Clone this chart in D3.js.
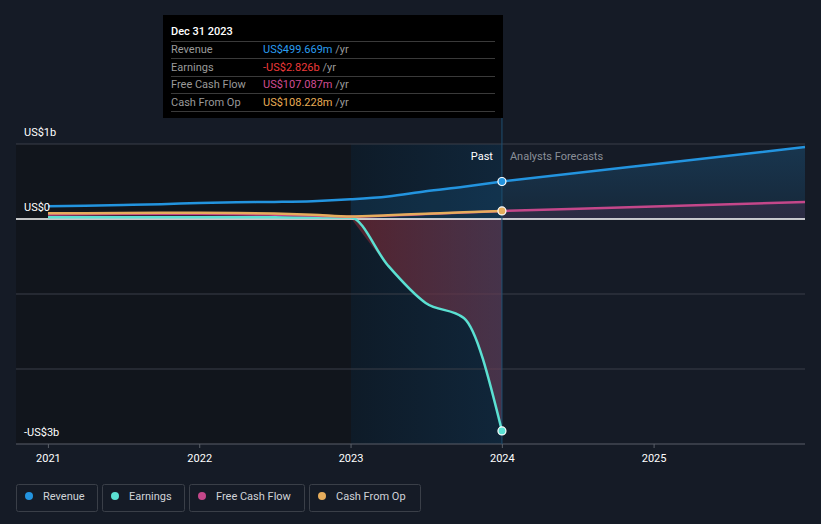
<!DOCTYPE html>
<html><head><meta charset="utf-8">
<script src="https://cdn.jsdelivr.net/npm/d3@7"></script>
<style>
body{margin:0;background:#151b26;}
svg text{font-family:Roboto,"Noto Sans",sans-serif;}
</style></head><body>
<svg id="c" width="821" height="524"></svg>
<script>
const pastDates = ["2020-12-31","2021-03-31","2021-06-30","2021-09-30","2021-12-31","2022-03-31","2022-06-30","2022-09-30","2022-12-31","2023-03-31","2023-06-30","2023-09-30","2023-12-31"];
const revenuePast = [0.17,0.178,0.188,0.198,0.212,0.222,0.228,0.238,0.262,0.30,0.37,0.43,0.4997];
const earningsPast = [0.025,0.025,0.025,0.024,0.024,0.023,0.022,0.021,0.02,-0.62,-1.12,-1.32,-2.826];
const fcfPast = [0.06,0.062,0.065,0.066,0.066,0.064,0.058,0.048,0.03,0.045,0.065,0.085,0.107];
const cfoPast = [0.075,0.077,0.08,0.082,0.082,0.08,0.072,0.058,0.035,0.05,0.07,0.09,0.108];
const forecastDates = ["2023-12-31","2024-12-31","2025-12-31"];
const revenueFc = [0.4997,0.73,0.96];
const fcfFc = [0.107,0.167,0.227];
const yTicks = [1,0,-3];
const yTickLabels = ["US$1b","US$0","-US$3b"];
const xTickYears = [2021,2022,2023,2024,2025];
const legendNames = ["Revenue","Earnings","Free Cash Flow","Cash From Op"];
const colors = {rev:"#2394df", earn:"#5be0d2", fcf:"#c4478a", cfo:"#e6ad5c"};
const tipRows = [["Revenue","US$499.669m"],["Earnings","-US$2.826b"],["Free Cash Flow","US$107.087m"],["Cash From Op","US$108.228m"]];
const tipColors = ["#2a9df0","#ee3a3a","#d14d94","#e9ad55"];

const P = d3.timeParse("%Y-%m-%d");
const svg = d3.select("#c");
const L=16, R=805, T=144, B=444;
const x = d3.scaleTime().domain([P("2020-12-31"), P("2025-12-31")]).range([48, 805]);
const y = d3.scaleLinear().domain([-3,1]).range([B,T]);
const defs = svg.append("defs");

// backgrounds
svg.append("rect").attr("x",L).attr("y",T).attr("width",x(P("2023-01-01"))-L).attr("height",B-T).attr("fill","#11151c");
const gPast = defs.append("linearGradient").attr("id","gp");
gPast.append("stop").attr("offset","0").attr("stop-color","#0e1b28");
gPast.append("stop").attr("offset","1").attr("stop-color","#10263a");
const x23 = x(P("2023-01-01")), x24 = x(P("2023-12-31"));
svg.append("rect").attr("x",x23).attr("y",T).attr("width",x24-x23).attr("height",B-T).attr("fill","url(#gp)");

// grid
[1,-1,-2].forEach(v=>svg.append("line").attr("x1",L).attr("x2",R).attr("y1",y(v)).attr("y2",y(v)).attr("stroke","#3a3f48").attr("stroke-width",1));
svg.append("line").attr("x1",L).attr("x2",R).attr("y1",B).attr("y2",B).attr("stroke","#5a5f68");
xTickYears.forEach(yr=>{
  const xx = x(P(yr+"-01-01"));
  svg.append("line").attr("x1",xx).attr("x2",xx).attr("y1",B).attr("y2",B+4).attr("stroke","#5a5f68");
  svg.append("text").attr("x",xx).attr("y",B+18).attr("text-anchor","middle").attr("fill","#ffffff").attr("font-size",11).text(yr);
});

const past = pastDates.map((d,i)=>({d:P(d),rev:revenuePast[i],earn:earningsPast[i],fcf:fcfPast[i],cfo:cfoPast[i]}));
const fc = forecastDates.map((d,i)=>({d:P(d),rev:revenueFc[i],fcf:fcfFc[i]}));
const recent = past.filter(p=>p.d>=P("2022-12-31"));

// areas
const area = k=>d3.area().x(p=>x(p.d)).y0(y(0)).y1(p=>y(p[k])).curve(d3.curveMonotoneX);
const gRev = defs.append("linearGradient").attr("id","gr").attr("x1",0).attr("x2",0).attr("y1",0).attr("y2",1);
gRev.append("stop").attr("offset","0").attr("stop-color","#2394df").attr("stop-opacity",0.22);
gRev.append("stop").attr("offset","1").attr("stop-color","#2394df").attr("stop-opacity",0.1);
svg.append("path").datum(recent).attr("d",area("rev")).attr("fill","#2394df").attr("opacity",0.12);
svg.append("path").datum(fc).attr("d",area("rev")).attr("fill","url(#gr)");
svg.append("path").datum(fc).attr("d",area("fcf")).attr("fill","#c4478a").attr("opacity",0.12);
const gE = defs.append("linearGradient").attr("id","ge");
gE.append("stop").attr("offset","0").attr("stop-color","#6a2530").attr("stop-opacity",0.75);
gE.append("stop").attr("offset","1").attr("stop-color","#6a3c55").attr("stop-opacity",0.6);
svg.append("path").datum(recent).attr("d",area("earn")).attr("fill","url(#ge)");

// zero line
svg.append("line").attr("x1",L).attr("x2",R).attr("y1",y(0)).attr("y2",y(0)).attr("stroke","#ffffff").attr("stroke-width",1.5);

// divider
svg.append("line").attr("x1",x24).attr("x2",x24).attr("y1",118).attr("y2",B).attr("stroke","#1e4f70").attr("stroke-width",1);

// lines
const line = k=>d3.line().x(p=>x(p.d)).y(p=>y(p[k])).curve(d3.curveMonotoneX);
svg.append("path").datum(past).attr("d",line("earn")).attr("fill","none").attr("stroke",colors.earn).attr("stroke-width",2.5);
svg.append("path").datum(past).attr("d",line("fcf")).attr("fill","none").attr("stroke",colors.fcf).attr("stroke-width",2.5);
svg.append("path").datum(past).attr("d",line("cfo")).attr("fill","none").attr("stroke",colors.cfo).attr("stroke-width",2.5);
svg.append("path").datum(fc).attr("d",line("fcf")).attr("fill","none").attr("stroke",colors.fcf).attr("stroke-width",2.5);
svg.append("path").datum(past).attr("d",line("rev")).attr("fill","none").attr("stroke",colors.rev).attr("stroke-width",2.5);
svg.append("path").datum(fc).attr("d",line("rev")).attr("fill","none").attr("stroke",colors.rev).attr("stroke-width",2.5);

// markers
const last = past[past.length-1];
[["rev",colors.rev],["cfo",colors.cfo],["earn",colors.earn]].forEach(([k,c])=>{
  svg.append("circle").attr("cx",x(last.d)).attr("cy",y(last[k])).attr("r",4).attr("fill",c).attr("stroke","#ffffff").attr("stroke-width",1.2);
});

// y labels
yTicks.forEach((v,i)=>svg.append("text").attr("x",24).attr("y",y(v)-8).attr("fill","#ffffff").attr("font-size",11).text(yTickLabels[i]));

// past / forecast labels
svg.append("text").attr("x",x24-9).attr("y",160).attr("text-anchor","end").attr("fill","#ffffff").attr("font-size",11).text("Past");
svg.append("text").attr("x",x24+8).attr("y",160).attr("fill","#8a8f98").attr("font-size",11).text("Analysts Forecasts");

// tooltip
const tg = svg.append("g");
tg.append("rect").attr("x",163).attr("y",15).attr("width",340).attr("height",103).attr("fill","#000000");
tg.append("text").attr("x",171).attr("y",35).attr("fill","#ffffff").attr("font-size",11).attr("font-weight",500).text("Dec 31 2023");
[41,58,76,93,111].forEach(yy=>tg.append("line").attr("x1",171).attr("x2",495).attr("y1",yy+0.5).attr("y2",yy+0.5).attr("stroke","#3a3a3a"));
tipRows.forEach((r,i)=>{
  const yy = 53+i*17.5;
  tg.append("text").attr("x",171).attr("y",yy).attr("fill","#9a9a9a").attr("font-size",11).text(r[0]);
  const t = tg.append("text").attr("x",263).attr("y",yy).attr("font-size",11);
  t.append("tspan").attr("fill",tipColors[i]).text(r[1]);
  t.append("tspan").attr("fill","#9a9a9a").text(" /yr");
});

// legend
const legX=[16,102,189,309], legW=[81,82,115,111];
const legC=[colors.rev,colors.earn,colors.fcf,colors.cfo];
legendNames.forEach((n,i)=>{
  const g = svg.append("g").attr("transform",`translate(${legX[i]},484)`);
  g.append("rect").attr("x",0.5).attr("y",0.5).attr("width",legW[i]).attr("height",27).attr("rx",2).attr("fill","none").attr("stroke","#3a3f48");
  g.append("circle").attr("cx",13).attr("cy",12).attr("r",4).attr("fill",legC[i]);
  g.append("text").attr("x",27).attr("y",16).attr("fill","#d0d3d8").attr("font-size",11).text(n);
});
</script>
</body></html>
